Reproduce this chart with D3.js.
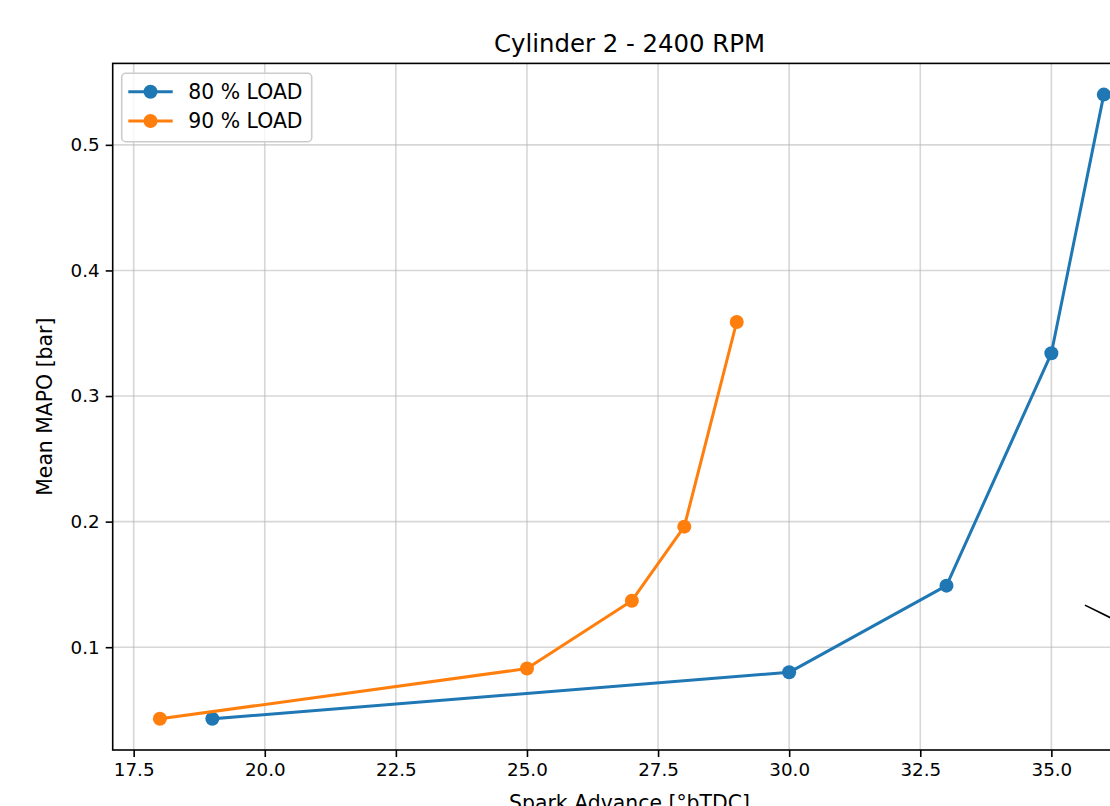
<!DOCTYPE html>
<html>
<head>
<meta charset="utf-8">
<script src="https://cdn.jsdelivr.net/npm/d3@7"></script>
<style>
  html, body { margin: 0; padding: 0; background: #fff; }
  svg { display: block; }
  text { font-family: "DejaVu Sans", sans-serif; fill: #000; }
</style>
</head>
<body>
<script>
// Mean MAPO vs spark advance, cylinder 2 at 2400 RPM
const xLoad80 = [19, 30, 33, 35, 36];
const yLoad80 = [0.043, 0.080, 0.149, 0.334, 0.540];
const xLoad90 = [18, 25, 27, 28, 29];
const yLoad90 = [0.043, 0.083, 0.137, 0.196, 0.359];
const seriesNames = ["80 % LOAD", "90 % LOAD"];
const seriesColors = ["#1f77b4", "#ff7f0e"];
const xTicks = [17.5, 20.0, 22.5, 25.0, 27.5, 30.0, 32.5, 35.0];
const yTicks = [0.1, 0.2, 0.3, 0.4, 0.5];
// leader line of an annotation that lies to the right
const noteLineX = [35.64, 37.5];
const noteLineY = [0.1335, 0.0952];

const W = 1110, H = 806;
const plot = { left: 112.7, right: 1151, top: 63.4, bottom: 750 };

const series = [
  { name: seriesNames[0], color: seriesColors[0], pts: xLoad80.map((x, i) => [x, yLoad80[i]]) },
  { name: seriesNames[1], color: seriesColors[1], pts: xLoad90.map((x, i) => [x, yLoad90[i]]) }
];

// 5% padding around the data, like the usual autoscale
const allX = xLoad80.concat(xLoad90), allY = yLoad80.concat(yLoad90);
const [x0, x1] = d3.extent(allX), [y0, y1] = d3.extent(allY);
const px = (x1 - x0) * 0.05, py = (y1 - y0) * 0.05;

const x = d3.scaleLinear().domain([x0 - px, x1 + px]).range([plot.left, plot.right]);
const y = d3.scaleLinear().domain([y0 - py, y1 + py]).range([plot.bottom, plot.top]);

const svg = d3.select("body").append("svg").attr("width", W).attr("height", H);

// grid
const grid = svg.append("g").attr("stroke", "#b0b0b0").attr("stroke-opacity", 0.5).attr("stroke-width", 1.6);
grid.selectAll(".gx").data(xTicks).join("line")
  .attr("x1", d => x(d)).attr("x2", d => x(d)).attr("y1", plot.top).attr("y2", plot.bottom);
grid.selectAll(".gy").data(yTicks).join("line")
  .attr("y1", d => y(d)).attr("y2", d => y(d)).attr("x1", plot.left).attr("x2", plot.right);

// series
const line = d3.line().x(d => x(d[0])).y(d => y(d[1]));
series.forEach(s => {
  svg.append("path").datum(s.pts).attr("d", line)
    .attr("fill", "none").attr("stroke", s.color).attr("stroke-width", 3)
    .attr("stroke-linejoin", "round").attr("stroke-linecap", "square");
  svg.append("g").selectAll("circle").data(s.pts).join("circle")
    .attr("cx", d => x(d[0])).attr("cy", d => y(d[1])).attr("r", 7).attr("fill", s.color);
});

// annotation leader
svg.append("line")
  .attr("x1", x(noteLineX[0])).attr("y1", y(noteLineY[0]))
  .attr("x2", x(noteLineX[1])).attr("y2", y(noteLineY[1]))
  .attr("stroke", "#000").attr("stroke-width", 1.6);

// axes
const xAxis = d3.axisBottom(x).tickValues(xTicks).tickFormat(d3.format(".1f")).tickSize(7).tickPadding(6);
const yAxis = d3.axisLeft(y).tickValues(yTicks).tickFormat(d3.format(".1f")).tickSize(7).tickPadding(6);

const gx = svg.append("g").attr("transform", `translate(0,${plot.bottom})`).call(xAxis);
const gy = svg.append("g").attr("transform", `translate(${plot.left},0)`).call(yAxis);
[gx, gy].forEach(g => {
  g.select(".domain").remove();
  g.selectAll(".tick line").attr("stroke", "#000").attr("stroke-width", 1.6);
  g.selectAll(".tick text").attr("font-size", 18.3).attr("fill", "#000")
    .style("font-family", '"DejaVu Sans", sans-serif');
});

// spines
svg.append("rect")
  .attr("x", plot.left).attr("y", plot.top)
  .attr("width", plot.right - plot.left).attr("height", plot.bottom - plot.top)
  .attr("fill", "none").attr("stroke", "#000").attr("stroke-width", 1.6);

// title and axis labels
svg.append("text").attr("x", 629.5).attr("y", 51.5).attr("text-anchor", "middle")
  .attr("font-size", 24.4).text("Cylinder 2 - 2400 RPM");
svg.append("text").attr("x", 629.5).attr("y", 810).attr("text-anchor", "middle")
  .attr("font-size", 20.4).text("Spark Advance [°bTDC]");
svg.append("text").attr("transform", `translate(51.5,${(plot.top + plot.bottom) / 2}) rotate(-90)`)
  .attr("text-anchor", "middle").attr("font-size", 20.4).text("Mean MAPO [bar]");

// legend
const lg = svg.append("g");
lg.append("rect").attr("x", 121.7).attr("y", 73.3).attr("width", 190).attr("height", 68.4)
  .attr("rx", 4).attr("fill", "#fff").attr("fill-opacity", 0.8)
  .attr("stroke", "#cccccc").attr("stroke-width", 1.6);
series.forEach((s, i) => {
  const ly = 91.7 + i * 29.3;
  lg.append("line").attr("x1", 128.3).attr("x2", 172.7).attr("y1", ly).attr("y2", ly)
    .attr("stroke", s.color).attr("stroke-width", 3);
  lg.append("circle").attr("cx", 150.5).attr("cy", ly).attr("r", 7).attr("fill", s.color);
  lg.append("text").attr("x", 188.3).attr("y", ly + 7.3).attr("font-size", 20.4).text(s.name);
});
</script>
</body>
</html>
